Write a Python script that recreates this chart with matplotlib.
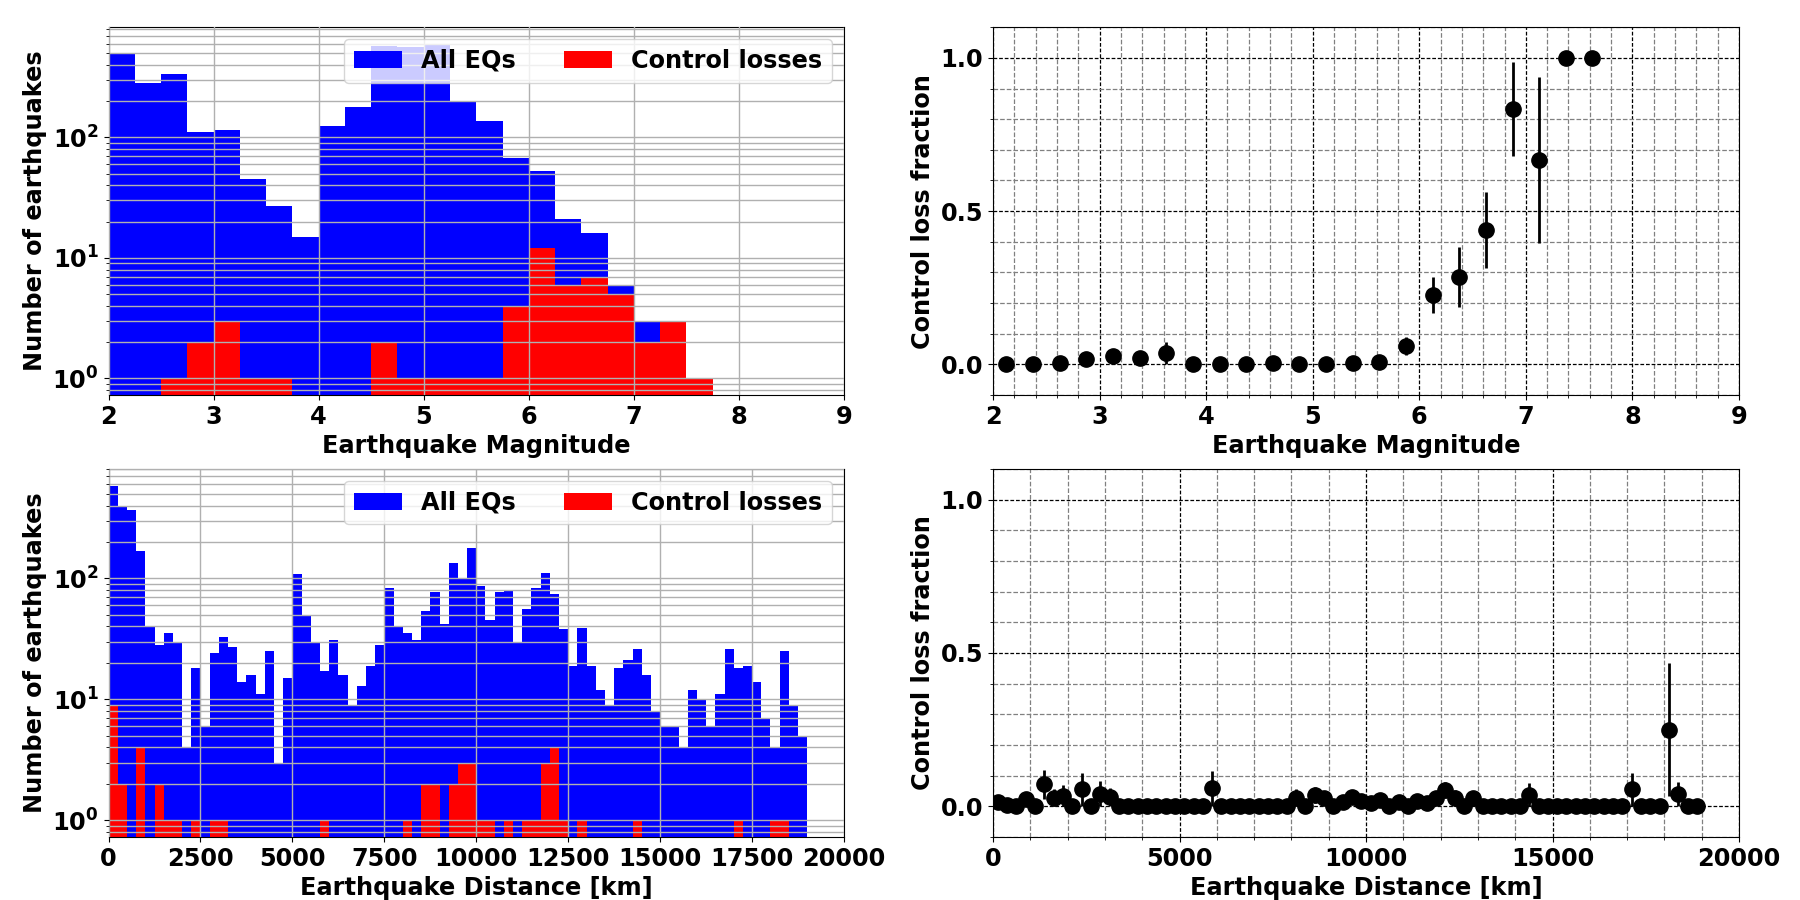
import numpy as np
import matplotlib
matplotlib.use("Agg")
import matplotlib.pyplot as plt
from matplotlib.ticker import MultipleLocator, LogLocator, NullFormatter

FS = 17.3
plt.rcParams['font.family'] = ['DejaVu Sans']
plt.rcParams['font.weight'] = 'bold'
plt.rcParams['axes.labelweight'] = 'bold'
plt.rcParams['font.size'] = FS
plt.rcParams['mathtext.default'] = 'bf'

# ---------------- data ----------------
# magnitude bins (edges), width 0.25
mag_edges = [2.0, 2.25, 2.5, 2.75, 3.0, 3.25, 3.5, 3.75, 4.0, 4.25, 4.5, 4.75,
             5.0, 5.25, 5.5, 5.75, 6.0, 6.25, 6.5, 6.75, 7.0, 7.25, 7.5, 7.75]
mag_all = [497, 284, 335, 111, 115, 45, 27, 15, 124, 178, 575, 561,
           597, 199, 137, 67, 53, 21, 16, 6, 3, 3, 1]
mag_loss = [0, 0, 1, 2, 3, 1, 1, 0, 0, 0, 2, 1,
            1, 1, 1, 4, 12, 6, 7, 5, 2, 3, 1]

# distance bins: 250 km wide from 0 to 19000 km
dist_bin_width = 250
dist_all = [583, 398, 367, 168, 40, 28, 35, 29, 4, 18,
            6, 24, 33, 27, 14, 16, 11, 25, 3, 15,
            109, 49, 30, 17, 31, 16, 9, 13, 19, 28,
            83, 40, 35, 31, 54, 77, 42, 134, 100, 178,
            86, 45, 77, 79, 30, 56, 83, 111, 74, 38,
            19, 39, 19, 12, 9, 18, 21, 26, 16, 8,
            6, 6, 4, 12, 10, 6, 11, 26, 18, 19,
            14, 7, 4, 25, 9, 5]
dist_loss = [9, 2, 0, 4, 0, 2, 1, 1, 0, 1,
             0, 1, 1, 0, 0, 0, 0, 0, 0, 0,
             0, 0, 0, 1, 0, 0, 0, 0, 0, 0,
             0, 0, 1, 0, 2, 2, 0, 2, 3, 3,
             1, 1, 0, 1, 0, 1, 1, 3, 4, 1,
             0, 1, 0, 0, 0, 0, 0, 1, 0, 0,
             0, 0, 0, 0, 0, 0, 0, 0, 1, 0,
             0, 0, 1, 1, 0, 0]

mag_edges = np.array(mag_edges)
mag_all = np.array(mag_all, float)
mag_loss = np.array(mag_loss, float)
dist_all = np.array(dist_all, float)
dist_loss = np.array(dist_loss, float)
dist_edges = np.arange(len(dist_all) + 1) * dist_bin_width

def frac_err(loss, allc):
    p = loss / allc
    e = np.sqrt(p * (1 - p) / allc)
    return p, e

fig = plt.figure(figsize=(18, 9), dpi=100)
ax1 = fig.add_axes([0.0603, 0.5611, 0.4086, 0.4086])
ax2 = fig.add_axes([0.5517, 0.5611, 0.4144, 0.4086])
ax3 = fig.add_axes([0.0603, 0.0700, 0.4086, 0.4089])
ax4 = fig.add_axes([0.5517, 0.0700, 0.4144, 0.4089])


def hist_panel(ax, edges, allc, loss, xlabel, xlim, xticks):
    centers = 0.5 * (edges[:-1] + edges[1:])
    ax.hist(centers, bins=edges, weights=allc, color='blue', log=True,
            label='All EQs')
    ax.hist(centers, bins=edges, weights=loss, color='red', log=True,
            label='Control losses')
    top = np.log10(allc.max())
    ax.set_ylim(10 ** (-0.05 * top), 10 ** (1.05 * top))
    ax.set_xlim(*xlim)
    ax.set_xticks(xticks)
    ax.yaxis.set_minor_locator(LogLocator(base=10, subs=np.arange(2, 10)))
    ax.yaxis.set_minor_formatter(NullFormatter())
    ax.set_axisbelow(False)
    ax.grid(True, which='major', color='#b0b0b0', lw=1)
    ax.grid(True, which='minor', axis='y', color='#b0b0b0', lw=1)
    ax.set_xlabel(xlabel, fontsize=FS, fontweight='bold')
    ax.set_ylabel('Number of earthquakes', fontsize=FS, fontweight='bold')
    ax.legend(loc='upper right', ncol=2, fontsize=FS)


def frac_panel(ax, edges, allc, loss, xlabel, xlim, xmajor, xminor):
    centers = 0.5 * (edges[:-1] + edges[1:])
    m = allc > 0
    p, e = frac_err(loss[m], allc[m])
    ax.errorbar(centers[m], p, yerr=e, fmt='o', color='black',
                markersize=11, elinewidth=2, capsize=0, zorder=3)
    ax.set_xlim(*xlim)
    ax.set_ylim(-0.1, 1.1)
    ax.xaxis.set_major_locator(MultipleLocator(xmajor))
    ax.xaxis.set_minor_locator(MultipleLocator(xminor))
    ax.yaxis.set_major_locator(MultipleLocator(0.5))
    ax.yaxis.set_minor_locator(MultipleLocator(0.1))
    ax.grid(True, which='major', color='black', ls=(0, (3, 1.5)), lw=0.9)
    ax.grid(True, which='minor', color='gray', ls='--', lw=0.9)
    ax.set_xlabel(xlabel, fontsize=FS, fontweight='bold')
    ax.set_ylabel('Control loss fraction', fontsize=FS, fontweight='bold')


hist_panel(ax1, mag_edges, mag_all, mag_loss, 'Earthquake Magnitude',
           (2, 9), np.arange(2, 10))
hist_panel(ax3, dist_edges, dist_all, dist_loss, 'Earthquake Distance [km]',
           (0, 20000), np.arange(0, 20001, 2500))
frac_panel(ax2, mag_edges, mag_all, mag_loss, 'Earthquake Magnitude',
           (2, 9), 1, 0.2)
frac_panel(ax4, dist_edges, dist_all, dist_loss, 'Earthquake Distance [km]',
           (0, 20000), 5000, 1000)

for ax in (ax1, ax2, ax3, ax4):
    ax.tick_params(labelsize=FS)
    for lab in ax.get_xticklabels() + ax.get_yticklabels():
        lab.set_fontweight('bold')

fig.savefig('out.png', dpi=100)
